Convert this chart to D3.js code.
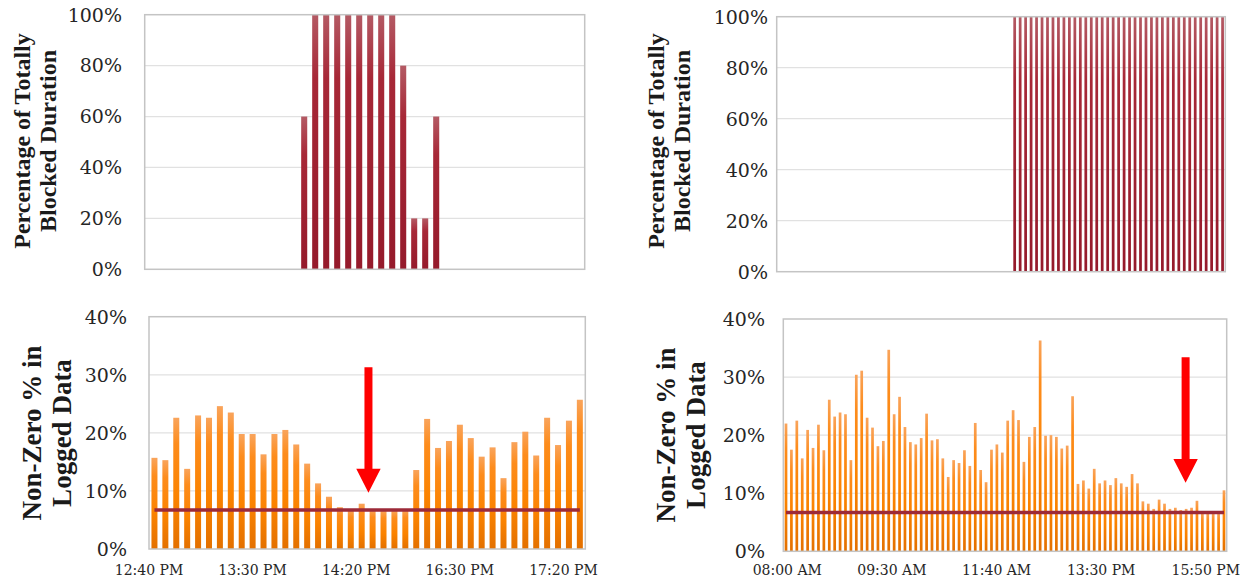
<!DOCTYPE html>
<html>
<head>
<meta charset="utf-8">
<script src="https://cdn.jsdelivr.net/npm/d3@7"></script>
<style>
  html, body { margin: 0; padding: 0; background: #ffffff; }
  svg { display: block; }
</style>
</head>
<body>
<svg id="chart" width="1250" height="583"></svg>
<script>
// ---- Data -------------------------------------------------------------
// Site A (left): 40 five-minute slots
const blockedA = [
  0, 0, 0, 0, 0, 0, 0, 0, 0, 0, 0, 0, 0, 0,
  60, 100, 100, 100, 100, 100, 100, 100, 100, 80, 20, 20, 60,
  0, 0, 0, 0, 0, 0, 0, 0, 0, 0, 0, 0, 0
];
const nonZeroA = [
  15.7, 15.3, 22.6, 13.8, 23.0, 22.6, 24.6, 23.5, 19.8, 19.8,
  16.3, 19.8, 20.5, 18.0, 14.7, 11.3, 9.0, 7.2, 6.8, 7.8,
  6.8, 6.6, 6.6, 6.7, 13.6, 22.4, 17.4, 18.6, 21.4, 19.1,
  15.9, 17.5, 12.2, 18.4, 20.2, 16.1, 22.6, 17.9, 22.1, 25.7
];
const thresholdA = 6.7;
const xTicksA = ["12:40 PM", "13:30 PM", "14:20 PM", "16:30 PM", "17:20 PM"];

// Site B (right): 82 slots
const blockedB = [
  0, 0, 0, 0, 0, 0, 0, 0, 0, 0, 0, 0, 0, 0, 0, 0, 0, 0, 0, 0, 0,
  0, 0, 0, 0, 0, 0, 0, 0, 0, 0, 0, 0, 0, 0, 0, 0, 0, 0, 0, 0, 0, 0,
  100, 100, 100, 100, 100, 100, 100, 100, 100, 100, 100, 100, 100,
  100, 100, 100, 100, 100, 100, 100, 100, 100, 100, 100, 100, 100,
  100, 100, 100, 100, 100, 100, 100, 100, 100, 100, 100, 100, 100
];
const nonZeroB = [
  22.0, 17.5, 22.5, 16.0, 20.9, 17.8, 21.8, 17.4, 26.1, 23.2,
  23.9, 23.6, 15.7, 30.4, 31.1, 23.0, 21.3, 18.1, 19.0, 34.7,
  23.6, 26.6, 21.4, 18.8, 18.4, 19.5, 23.7, 19.1, 19.3, 16.0,
  12.8, 15.7, 15.2, 17.4, 14.7, 22.1, 14.0, 11.9, 17.5, 18.4,
  17.0, 22.5, 24.3, 22.6, 15.4, 19.7, 21.4, 36.3, 19.9, 20.0,
  19.7, 17.7, 18.2, 26.7, 11.6, 12.2, 10.8, 14.2, 11.7, 12.2,
  11.4, 12.6, 11.7, 11.1, 13.3, 11.7, 8.6, 8.2, 7.3, 8.9,
  8.2, 7.3, 7.5, 7.1, 7.3, 7.5, 8.7, 6.6, 6.6, 6.6,
  6.6, 10.5
];
const thresholdB = 6.7;
const xTicksB = ["08:00 AM", "09:30 AM", "11:40 AM", "13:30 PM", "15:50 PM"];

const blockedTicks = [0, 20, 40, 60, 80, 100];
const nonZeroTicks = [0, 10, 20, 30, 40];
const blockedTitle = ["Percentage of Totally", "Blocked Duration"];
const nonZeroTitle = ["Non-Zero % in", "Logged Data"];

// ---- Drawing ---------------------------------------------------------
const svg = d3.select("#chart");
const defs = svg.append("defs");

function gradient(id, stops) {
  const g = defs.append("linearGradient").attr("id", id)
    .attr("x1", 0).attr("y1", 0).attr("x2", 0).attr("y2", 1);
  stops.forEach(([o, c]) => g.append("stop").attr("offset", o).attr("stop-color", c));
}
gradient("gradRed", [[0, "#b45a64"], [0.25, "#a72837"], [1, "#951a2b"]]);
gradient("gradOrange", [[0, "#f9a45c"], [0.2, "#fd8c1c"], [0.6, "#fb8300"], [1, "#e37000"]]);

const tickFont = "'DejaVu Serif', serif";
const titleFont = "'Liberation Serif', 'Times New Roman', serif";

function panel(cfg) {
  const { x0, x1, y0, y1, values, max, ticks, barFill, padding,
          tickRight, titleLines, titleX, titleY, titleSize, titleGap } = cfg;
  const g = svg.append("g");
  const x = d3.scaleBand()
    .domain(d3.range(values.length))
    .range([x0, x1])
    .paddingInner(padding)
    .paddingOuter(padding / 2);
  const y = d3.scaleLinear().domain([0, max]).range([y1, y0]);

  // gridlines
  g.append("g").selectAll("line").data(ticks.filter(t => t > 0 && t < max))
    .join("line")
    .attr("x1", x0).attr("x2", x1)
    .attr("y1", d => y(d)).attr("y2", d => y(d))
    .attr("stroke", "#e1e1e1").attr("stroke-width", 1.2);

  // y tick labels
  g.append("g").selectAll("text").data(ticks).join("text")
    .attr("x", tickRight).attr("y", d => y(d))
    .attr("dy", "0.36em")
    .attr("text-anchor", "end")
    .attr("font-family", tickFont).attr("font-size", 19)
    .attr("fill", "#262626")
    .text(d => d + "%");

  // bars
  g.append("g").selectAll("rect").data(values.map((v, i) => ({ v, i })).filter(d => d.v > 0))
    .join("rect")
    .attr("x", d => x(d.i))
    .attr("width", x.bandwidth())
    .attr("y", d => y(d.v))
    .attr("height", d => y1 - y(d.v))
    .attr("fill", barFill);

  // frame
  g.append("rect")
    .attr("x", x0).attr("y", y0)
    .attr("width", x1 - x0).attr("height", y1 - y0)
    .attr("fill", "none").attr("stroke", "#c4c4c4").attr("stroke-width", 1.5);

  // axis title (two rotated lines)
  const t = g.append("text")
    .attr("transform", `translate(${titleX},${titleY}) rotate(-90)`)
    .attr("text-anchor", "middle")
    .attr("font-family", titleFont).attr("font-weight", "bold")
    .attr("font-size", titleSize).attr("fill", "#1a1a1a");
  titleLines.forEach((line, k) => {
    t.append("tspan").attr("x", 0).attr("y", k * titleGap).text(line);
  });

  return { g, x, y };
}

function thresholdLine(p, values, level) {
  const line = d3.line()
    .x(d => p.x(d) + p.x.bandwidth() / 2)
    .y(() => p.y(level));
  p.g.append("path")
    .datum([0, values.length - 1])
    .attr("d", line)
    .attr("fill", "none")
    .attr("stroke", "#9c2a38")
    .attr("stroke-width", 3.5);
}

function arrow(p, pos, top, headStart, tip) {
  const cx = p.x.range()[0] + p.x.step() * pos;
  const shaft = 4, head = 12.2;
  const pts = [
    [cx - shaft, p.y(top)], [cx + shaft, p.y(top)],
    [cx + shaft, p.y(headStart)], [cx + head, p.y(headStart)],
    [cx, p.y(tip)], [cx - head, p.y(headStart)],
    [cx - shaft, p.y(headStart)]
  ];
  p.g.append("path")
    .attr("d", d3.line()(pts) + "Z")
    .attr("fill", "#ff0000");
}

function xLabels(p, labels, first, stepSlots, baseline) {
  const r0 = p.x.range()[0];
  p.g.append("g").selectAll("text").data(labels).join("text")
    .attr("x", (d, k) => r0 + p.x.step() * (first + k * stepSlots))
    .attr("y", baseline)
    .attr("text-anchor", "middle")
    .attr("font-family", tickFont).attr("font-size", 14)
    .attr("fill", "#262626")
    .text(d => d);
}

// Top-left: blocked duration, site A
panel({
  x0: 144.7, x1: 584.7, y0: 14.7, y1: 269.3,
  values: blockedA, max: 100, ticks: blockedTicks,
  barFill: "url(#gradRed)", padding: 0.45,
  tickRight: 122, titleLines: blockedTitle,
  titleX: 30, titleY: 141, titleSize: 24, titleGap: 26
});

// Bottom-left: non-zero share, site A
const pA = panel({
  x0: 149, x1: 585.3, y0: 316.7, y1: 549,
  values: nonZeroA, max: 40, ticks: nonZeroTicks,
  barFill: "url(#gradOrange)", padding: 0.45,
  tickRight: 127, titleLines: nonZeroTitle,
  titleX: 41, titleY: 433, titleSize: 27, titleGap: 30
});
thresholdLine(pA, nonZeroA, thresholdA);
arrow(pA, 20.12, 31.3, 13.8, 9.7);
xLabels(pA, xTicksA, 0, 9.5, 575);

// Top-right: blocked duration, site B
panel({
  x0: 776.7, x1: 1225.3, y0: 16.7, y1: 271.7,
  values: blockedB, max: 100, ticks: blockedTicks,
  barFill: "url(#gradRed)", padding: 0.5,
  tickRight: 768, titleLines: blockedTitle,
  titleX: 664, titleY: 141, titleSize: 24, titleGap: 26
});

// Bottom-right: non-zero share, site B
const pB = panel({
  x0: 783.3, x1: 1226.7, y0: 319, y1: 551.3,
  values: nonZeroB, max: 40, ticks: nonZeroTicks,
  barFill: "url(#gradOrange)", padding: 0.5,
  tickRight: 765, titleLines: nonZeroTitle,
  titleX: 675, titleY: 435, titleSize: 27, titleGap: 30
});
thresholdLine(pB, nonZeroB, thresholdB);
arrow(pB, 74.4, 33.4, 15.9, 11.8);
xLabels(pB, xTicksB, 0.74, 19.35, 575);
</script>
</body>
</html>
